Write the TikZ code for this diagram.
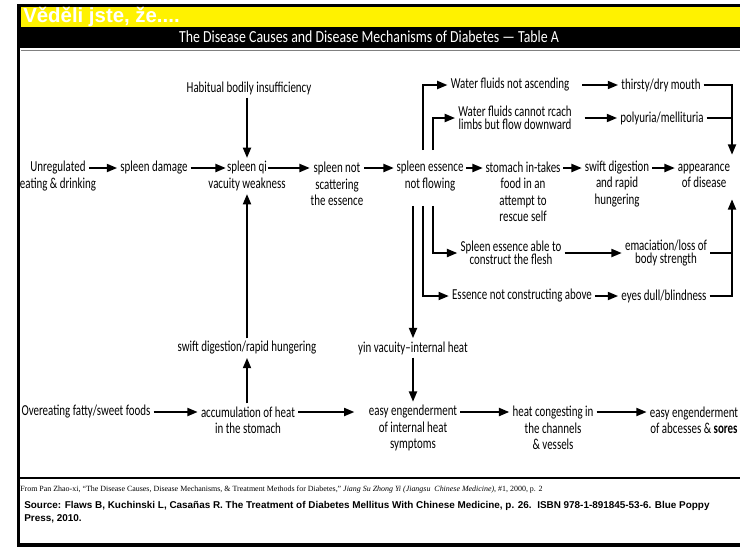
\documentclass[tikz,border=0pt]{standalone}
\usepackage{fontspec}
\setmainfont{Carlito}[FakeStretch=0.72]
\newfontfamily\titlefont{Carlito}[FakeStretch=0.82]
\newfontfamily\arialfont{Liberation Sans}
\newfontfamily\timesfont{Liberation Serif}
\usetikzlibrary{arrows.meta,calc}

\begin{document}
\begin{tikzpicture}[x=0.025cm, y=-0.025cm]
  \tikzstyle{every node}=[font=\fontsize{10.8}{11.7}\selectfont, align=center, inner sep=2pt]
  \tikzstyle{arr}=[line width=1.8pt, -{Triangle[length=7.5pt,width=5.5pt]}]
  \tikzstyle{bar}=[line width=1.8pt]
  \tikzstyle{tight}=[font=\fontsize{10.8}{9.6}\selectfont]
  \useasboundingbox (0,0) rectangle (740,548);
  % header bands
  \fill[black] (17,4) rectangle (740,48);
  \fill[yellow] (21,7) rectangle (740,27);
  \node[anchor=west, inner sep=0pt, text=white, font=\arialfont\bfseries\fontsize{14.5}{15}\selectfont] (vedeli) at (23,17) {Věděli jste, že....};
  \node[text=white, font=\titlefont\fontsize{12}{12}\selectfont] (title) at (369,37) {The Disease Causes and Disease Mechanisms of Diabetes — Table A};
  \draw[gray, line width=0.6pt] (21,50) -- (740,50);
  %
  \coordinate (r1) at (0,168);
  \coordinate (r3) at (0,412);
  % main row
  \node (habit) at (249,88) {Habitual bodily insufficiency};
  \node (unreg) at (58,176) {Unregulated\\eating \& drinking};
  \node (dmg) at (154,168) {spleen damage};
  \node (qi) at (247,176) {spleen qi\\vacuity weakness};
  \node (notsc) at (337,184) {spleen not\\scattering\\the essence};
  \node (ess) at (430,176) {spleen essence\\not flowing};
  \node (stom) at (523,192) {stomach in-takes\\food in an\\attempt to\\rescue self};
  \node (swift) at (617,184) {swift digestion\\and rapid\\hungering};
  \node (appear) at (704,176) {appearance\\of disease};
  % branches above
  \node (wnot) at (510,85) {Water fluids not ascending};
  \node (thirst) at (661,85) {thirsty/dry mouth};
  \node[tight] (wcan) at (515,118) {Water fluids cannot rcach\\limbs but flow downward};
  \node (poly) at (662,118) {polyuria/mellituria};
  % branches below
  \node[tight] (able) at (511,253) {Spleen essence able to\\construct the flesh};
  \node[tight] (emac) at (666,253) {emaciation/loss of\\body strength};
  \node (eabove) at (522,296) {Essence not constructing above};
  \node (eyes) at (664,296) {eyes dull/blindness};
  % lower part
  \node (swdig) at (247,348) {swift digestion/rapid hungering};
  \node (yin) at (413,348) {yin vacuity–internal heat};
  \node (over) at (86,412) {Overeating fatty/sweet foods};
  \node (accum) at (248,420) {accumulation of heat\\in the stomach};
  \node (easy) at (413,428) {easy engenderment\\of internal heat\\symptoms};
  \node (heat) at (553,428) {heat congesting in\\the channels\\\& vessels};
  \node (abc) at (694,420) {easy engenderment\\of abcesses \& \textbf{sores}};
  %
  \draw[arr] (habit.south -| qi) -- (qi);
  \draw[arr] ($(unreg |- r1)+(31,0)$) -- (dmg.west);
  \draw[arr] (dmg.east) -- ($(qi |- r1)+(-21,0)$);
  \draw[arr] ($(qi |- r1)+(21,0)$) -- ($(notsc |- r1)+(-27,0)$);
  \draw[arr] ($(notsc |- r1)+(27,0)$) -- ($(ess |- r1)+(-36,0)$);
  \draw[arr] ($(ess |- r1)+(36,0)$) -- ($(stom |- r1)+(-40,0)$);
  \draw[arr] ($(stom |- r1)+(40,0)$) -- ($(swift |- r1)+(-35,0)$);
  \draw[arr] ($(swift |- r1)+(35,0)$) -- ($(appear |- r1)+(-29,0)$);
  % up and down from spleen essence
  \draw[arr] ($(ess.north)+(-7,-8)$) |- (wnot.west);
  \draw[arr] ($(ess.north)+(3,-8)$) |- (wcan.west);
  \draw[arr] ($(ess.south)+(3,12)$) |- (able.west);
  \draw[arr] ($(ess.south)+(-7,12)$) |- (eabove.west);
  \draw[arr] ($(ess.south)+(-17,12)$) -- (yin.north);
  % right hand side
  \coordinate (source) at ($(appear.north)+(28,-6)$);
  \coordinate (sink) at ($(appear.south)+(28,8)$);
  \draw[arr, shorten <=7pt] (wnot.east) -- (thirst.west);
  \draw[arr, shorten <=7pt] (wcan.east |- poly) -- (poly.west);
  \draw[arr] (thirst.east) -| (source);
  \draw[bar] (poly.east) -- (poly.east -| source);
  \draw[arr] (able.east) -- (emac.west);
  \draw[arr] (eabove.east) -- (eyes.west);
  \draw[arr] (eyes.east) -| (sink);
  \draw[bar] (emac.east) -- (emac.east -| sink);
  % lower rows
  \draw[arr] (swdig) -- (qi);
  \draw[arr] (accum.north -| swdig) -- (swdig);
  \draw[arr] (yin) -- (easy);
  \draw[arr] (over.east) -- (accum.west |- r3);
  \draw[arr, shorten >=8pt] (accum.east |- r3) -- (easy.west |- r3);
  \draw[arr] (easy.east |- r3) -- (heat.west |- r3);
  \draw[arr] (heat.east |- r3) -- (abc.west |- r3);
  % footer
  \draw[line width=2pt] (18,478) -- (740,478);
  \node[anchor=west, inner sep=0pt, font=\timesfont\fontsize{5.65}{6}\selectfont] (from) at (20,490) {From Pan Zhao-xi, “The Disease Causes, Disease Mechanisms, \& Treatment Methods for Diabetes,” \textit{Jiang Su Zhong Yi (Jiangsu\ \ Chinese Medicine)}, \#1, 2000, p. 2};
  \node[anchor=north west, inner sep=0pt, align=left, font=\arialfont\bfseries\fontsize{7.05}{9.2}\selectfont] (source) at (24,501) {Source: Flaws B, Kuchinski L, Casañas R. The Treatment of Diabetes Mellitus With Chinese Medicine, p. 26.\ \ ISBN 978-1-891845-53-6. Blue Poppy\\Press, 2010.};
  % frame
  \draw[line width=2.2pt] (18.5,4) -- (18.5,545) -- (740,545);
\end{tikzpicture}
\end{document}
